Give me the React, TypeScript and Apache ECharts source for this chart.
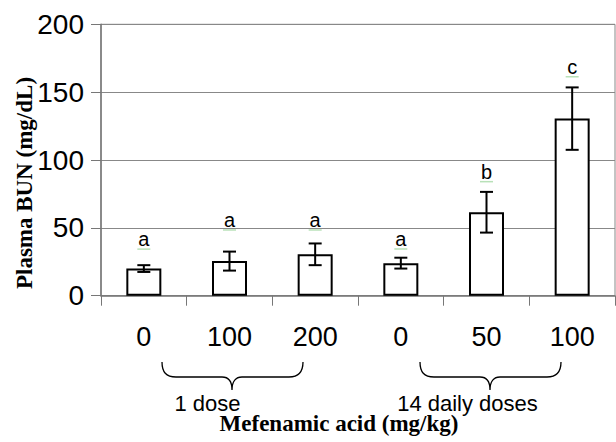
import React, { useEffect, useRef } from "react";
import * as echarts from "echarts";

const categories = ["0", "100", "200", "0", "50", "100"];
const means = [20, 25.5, 30.5, 24, 61.5, 130.5];
const errors = [2.5, 7, 8, 4, 15, 23];
const letters = ["a", "a", "a", "a", "b", "c"];
const letterY = [41.7, 55.8, 55.8, 41.8, 91.4, 168.7];
const yMin = 0;
const yMax = 200;
const yInterval = 50;
const groupLabels = ["1 dose", "14 daily doses"];
const yTitle = "Plasma BUN (mg/dL)";
const xTitle = "Mefenamic acid (mg/kg)";

echarts.graphic.registerShape(
  "brace",
  echarts.graphic.extendPath(
    "M0,0 C0,10 4,15 14,15 L60,15 C66,15 70,19 70,28 C70,19 74,15 80,15 L127,15 C137,15 141,10 141,0",
    {}
  )
);

const SANS = "'Liberation Sans', Arial, sans-serif";
const SERIF = "'Liberation Serif', 'Times New Roman', serif";

export default function App() {
  const ref = useRef<HTMLDivElement>(null);
  useEffect(() => {
    if (!ref.current) return;
    const chart = echarts.init(ref.current, null, { renderer: "svg" });
    const errData = means.map((m, i) => [i, m - errors[i], m + errors[i]]);
    const letterData = letterY.map((v, i) => [i, v]);
    const braceStyle = { fill: "none", stroke: "#000", lineWidth: 1.3 };
    const textStyle = (font: string) => ({
      font,
      fill: "#000",
      align: "center",
      verticalAlign: "middle",
      textAlign: "center",
      textVerticalAlign: "middle",
    });
    chart.setOption({
      animation: false,
      backgroundColor: "#fff",
      grid: {
        left: 101,
        top: 24.3,
        width: 514,
        height: 271.4,
        show: true,
        borderColor: "#888",
        borderWidth: 1,
        backgroundColor: "transparent",
      },
      xAxis: {
        type: "category",
        data: categories,
        axisLine: { show: true, lineStyle: { color: "#777", width: 1.5 } },
        axisTick: { show: true, length: 10, lineStyle: { color: "#777", width: 1 } },
        axisLabel: { fontSize: 27, color: "#000", fontFamily: SANS, margin: 28 },
        splitLine: { show: false },
      },
      yAxis: {
        type: "value",
        min: yMin,
        max: yMax,
        interval: yInterval,
        axisLine: { show: true, lineStyle: { color: "#777", width: 1.5 } },
        axisTick: { show: true, length: 10, lineStyle: { color: "#777", width: 1 } },
        axisLabel: { fontSize: 28, color: "#000", fontFamily: SANS, margin: 17 },
        splitLine: { show: true, lineStyle: { color: "#888", width: 1 } },
      },
      series: [
        {
          type: "bar",
          data: means,
          barWidth: 35,
          itemStyle: { color: "#fff", borderColor: "#000", borderWidth: 2 },
          z: 2,
        },
        {
          type: "custom",
          data: errData,
          encode: { x: 0, y: [1, 2] },
          z: 3,
          renderItem: (params: any, api: any) => {
            const x = api.value(0);
            const lo = api.coord([x, api.value(1)]);
            const hi = api.coord([x, api.value(2)]);
            const half = 6.5;
            const style = { stroke: "#000", lineWidth: 2 };
            return {
              type: "group",
              children: [
                { type: "line", shape: { x1: hi[0], y1: hi[1], x2: lo[0], y2: lo[1] }, style },
                { type: "line", shape: { x1: hi[0] - half, y1: hi[1], x2: hi[0] + half, y2: hi[1] }, style },
                { type: "line", shape: { x1: lo[0] - half, y1: lo[1], x2: lo[0] + half, y2: lo[1] }, style },
              ],
            };
          },
        },
        {
          type: "scatter",
          data: letterData,
          symbol: "rect",
          symbolSize: [13, 1.5],
          symbolOffset: [0, 10],
          itemStyle: { color: "#a6d9a6" },
          z: 4,
        },
        {
          type: "scatter",
          data: letterData,
          symbolSize: 0,
          itemStyle: { color: "#000" },
          z: 5,
          label: {
            show: true,
            position: "inside",
            formatter: (p: any) => letters[p.dataIndex],
            fontSize: 20,
            color: "#000",
            opacity: 1,
            textBorderWidth: 0,
            fontFamily: SANS,
          },
        },
      ],
      graphic: [
        { type: "brace", x: 162, y: 362, style: braceStyle },
        { type: "brace", x: 420, y: 362, style: braceStyle },
        {
          type: "text",
          x: 207.5,
          y: 403,
          style: { text: groupLabels[0], ...textStyle(`22px ${SANS}`) },
        },
        {
          type: "text",
          x: 467.5,
          y: 403,
          style: { text: groupLabels[1], ...textStyle(`22px ${SANS}`) },
        },
        {
          type: "text",
          x: 339,
          y: 423,
          style: { text: xTitle, ...textStyle(`bold 23px ${SERIF}`) },
        },
        {
          type: "text",
          x: 24,
          y: 183,
          rotation: Math.PI / 2,
          style: { text: yTitle, ...textStyle(`bold 23px ${SERIF}`) },
        },
      ],
    });
    return () => chart.dispose();
  }, []);
  return (
    <div
      ref={ref}
      style={{ position: "fixed", left: 0, top: 0, width: 616, height: 442 }}
    />
  );
}
